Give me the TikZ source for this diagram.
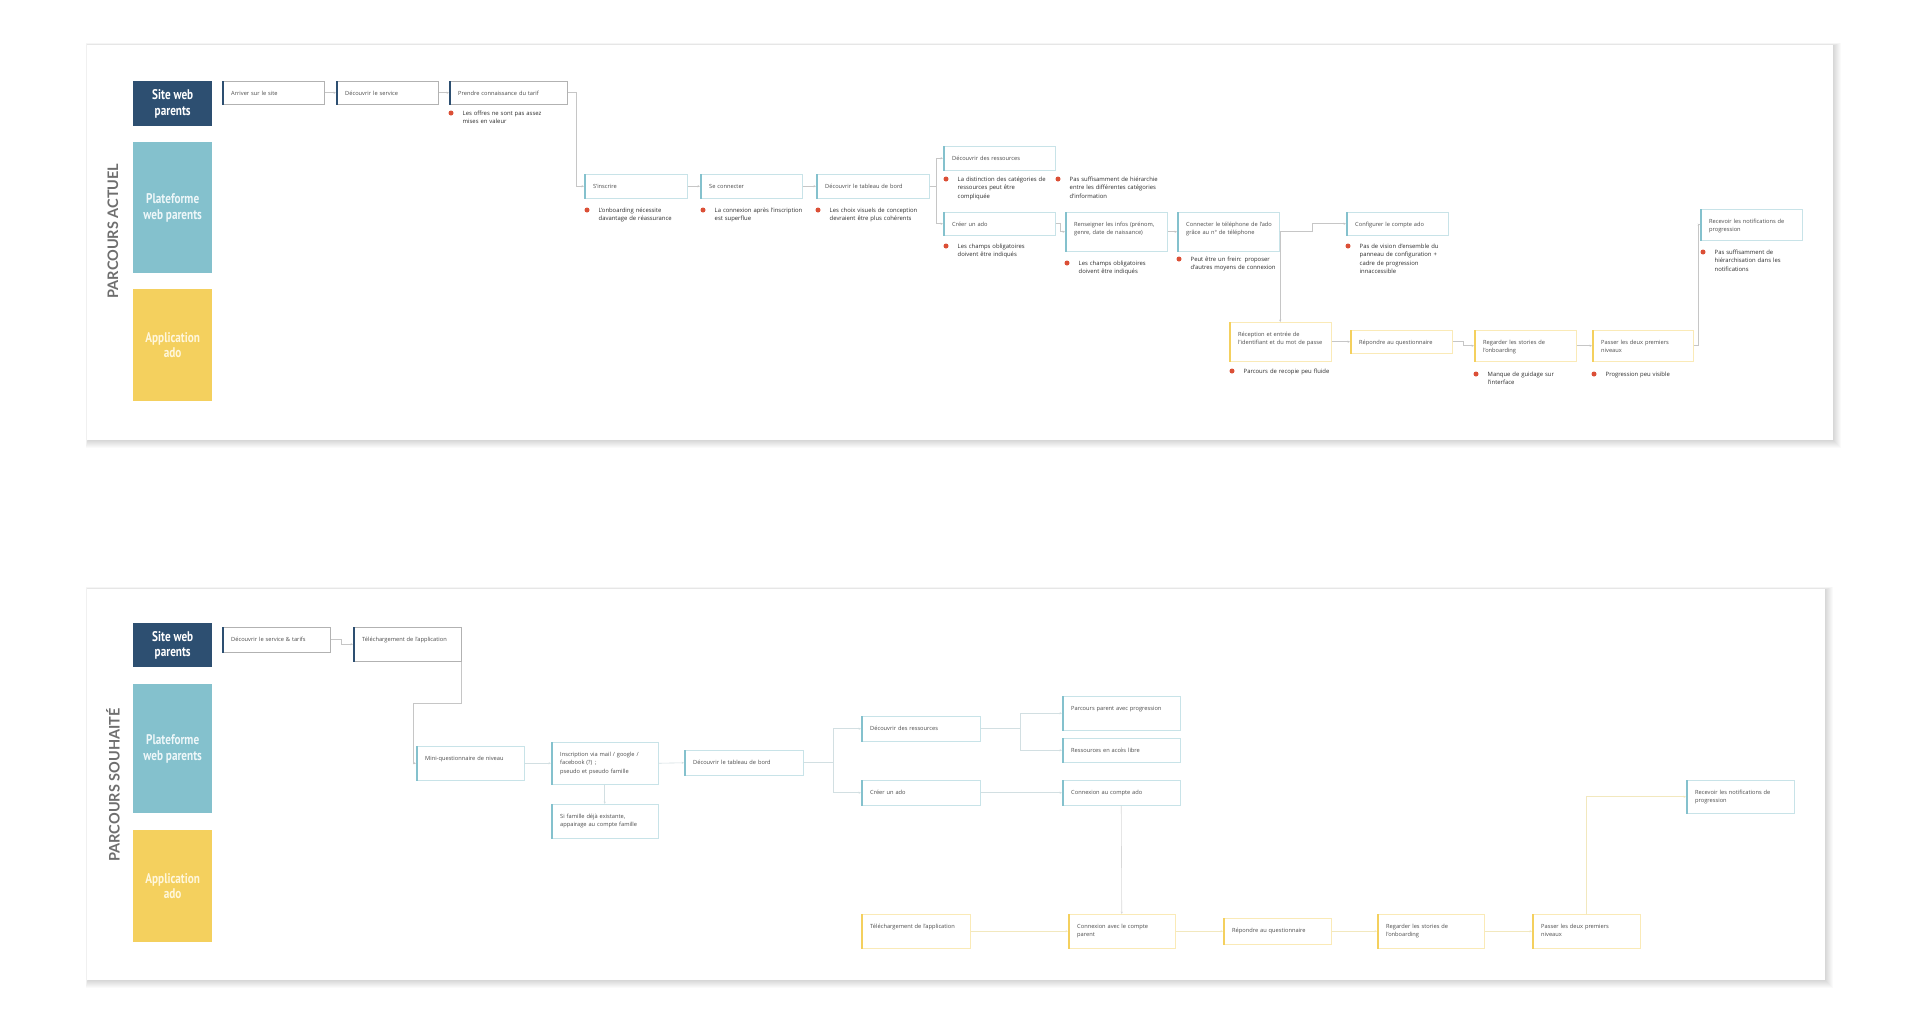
\documentclass[tikz,border=0pt]{standalone}
\usepackage{fontspec}
\setmainfont{Open Sans}
\newfontfamily\lanefont[FakeStretch=0.8]{PT Sans}
\newfontfamily\titlefont{Lato}
\usetikzlibrary{arrows.meta,calc}
\definecolor{navy}{HTML}{2D4F71}
\definecolor{laneteal}{HTML}{84C1CD}
\definecolor{laneyel}{HTML}{F4D05E}
\definecolor{dotred}{HTML}{DB4F36}
\definecolor{conngray}{HTML}{C6C6C6}
\definecolor{connteal}{HTML}{D2DFE2}
\definecolor{connyel}{HTML}{F2E8BE}
\definecolor{tealtxt}{HTML}{EEF7F9}
\definecolor{yeltxt}{HTML}{FFF7DC}
\tikzset{
  boxshape/.style={draw=#1, fill=white, line width=0.5pt, inner sep=0pt, anchor=north west, rectangle},
  btext/.style={font=\fontsize{5.7}{8.5}\selectfont, text=black!70, align=left, text width=150pt, inner sep=0pt, anchor=base west},
  btxt/.style={font=\fontsize{5.9}{8.6}\selectfont, text=black!82, align=left, text width=150pt, inner sep=0pt, anchor=base west},
  rdot/.style={circle, fill=dotred, inner sep=0pt, minimum size=5pt},
  lane/.style={anchor=north west, inner sep=0pt, align=center, font=\lanefont\bfseries\fontsize{14}{15.5}\selectfont, minimum width=79pt},
  ptitle/.style={font=\titlefont\bfseries\fontsize{14.5}{16}\selectfont, text=black!57, rotate=90, inner sep=0pt},
  conn/.style={draw=#1, line width=0.6pt, -{Stealth[length=2.4pt,width=2.2pt]}},
  cg/.style={conn=conngray},
  ct/.style={conn=connteal},
  cy/.style={conn=connyel},
}
% name x y w h accent border text
\newcommand\bx[8]{%
  \node[boxshape=#7, minimum width=#4pt, minimum height=#5pt] (#1) at (#2,#3) {};
  \draw[#6, line width=1.8pt] ([xshift=0.9pt]#1.north west) -- ([xshift=0.9pt]#1.south west);
  \node[btext] (#1t) at ($(#1.north west)+(9,14)$) {#8};
}
% name x y text
\newcommand\bul[4]{%
  \node[rdot] (#1d) at (#2,#3) {};
  \node[btxt] (#1) at (#2+11.5,#3+2) {#4};
}
\newcommand\card[4]{%
  \foreach \k in {1,...,8} \fill[black, opacity=0.02] (#1-0.3*\k+1,#2-0.3*\k+0.5) rectangle (#3+\k,#4+\k);
  \fill[white] (#1,#2) rectangle (#3,#4);
}
\begin{document}
\begin{tikzpicture}[x=1pt,y=-1pt]
\useasboundingbox (0,0) rectangle (1920,1029);
\fill[white] (0,0) rectangle (1920,1029);
\card{87}{45}{1833}{440}
\card{87}{589}{1825}{980}

% ---------- TOP : PARCOURS ACTUEL ----------
\node[ptitle] (t1) at (113,231) {PARCOURS ACTUEL};
\node[lane, fill=navy, text=white, minimum height=45pt] (l1) at (133,81) {Site web\\parents};
\node[lane, fill=laneteal, text=tealtxt, minimum height=131pt] (l2) at (133,142) {Plateforme\\web parents};
\node[lane, fill=laneyel, text=yeltxt, minimum height=112pt] (l3) at (133,289) {Application\\ado};

\bx{a1}{222}{81}{102}{23}{navy}{black!30}{Arriver sur le site}
\bx{a2}{336}{81}{102}{23}{navy}{black!30}{Découvrir le service}
\bx{a3}{449}{81}{118}{23}{navy}{black!30}{Prendre connaissance du tarif}
\bul{ba3}{451}{113}{Les offres ne sont pas assez\\mises en valeur}

\bx{p1}{584}{174}{103}{24}{laneteal}{laneteal!45}{S'inscrire}
\bul{bp1}{587}{210}{L'onboarding nécessite\\davantage de réassurance}
\bx{p2}{700}{174}{102}{24}{laneteal}{laneteal!45}{Se connecter}
\bul{bp2}{703}{210}{La connexion après l'inscription\\est superflue}
\bx{p3}{816}{174}{113}{24}{laneteal}{laneteal!45}{Découvrir le tableau de bord}
\bul{bp3}{818}{210}{Les choix visuels de conception\\devraient être plus cohérents}
\bx{p4}{943}{146}{112}{24}{laneteal}{laneteal!45}{Découvrir des ressources}
\bul{bp4a}{946}{179}{La distinction des catégories de\\ressources peut être\\compliquée}
\bul{bp4b}{1058}{179}{Pas suffisamment de hiérarchie\\entre les différentes catégories\\d'information}
\bx{p5}{943}{212}{112}{23}{laneteal}{laneteal!45}{Créer un ado}
\bul{bp5}{946}{246}{Les champs obligatoires\\doivent être indiqués}
\bx{p6}{1065}{212}{102}{39}{laneteal}{laneteal!45}{Renseigner les infos (prénom,\\genre, date de naissance)}
\bul{bp6}{1067}{263}{Les champs obligatoires\\doivent être indiqués}
\bx{p7}{1177}{212}{102}{39}{laneteal}{laneteal!45}{Connecter le téléphone de l'ado\\grâce au n° de téléphone}
\bul{bp7}{1179}{259}{Peut être un frein: proposer\\d'autres moyens de connexion}
\bx{p8}{1346}{212}{102}{23}{laneteal}{laneteal!45}{Configurer le compte ado}
\bul{bp8}{1348}{246}{Pas de vision d'ensemble du\\panneau de configuration +\\cadre de progression\\innaccessible}
\bx{p9}{1700}{209}{102}{31}{laneteal}{laneteal!45}{Recevoir les notifications de\\progression}
\bul{bp9}{1703}{252}{Pas suffisamment de\\hiérarchisation dans les\\notifications}

\bx{y1}{1229}{322}{102}{39}{laneyel}{laneyel!45}{Réception et entrée de\\l'identifiant et du mot de passe}
\bul{by1}{1232}{371}{Parcours de recopie peu fluide}
\bx{y2}{1350}{330}{102}{23}{laneyel}{laneyel!45}{Répondre au questionnaire}
\bx{y3}{1474}{330}{102}{31}{laneyel}{laneyel!45}{Regarder les stories de\\l'onboarding}
\bul{by3}{1476}{374}{Manque de guidage sur\\l'interface}
\bx{y4}{1592}{330}{101}{31}{laneyel}{laneyel!45}{Passer les deux premiers\\niveaux}
\bul{by4}{1594}{374}{Progression peu visible}

\draw[cg] (a1.east) -- (a2.west);
\draw[cg] (a2.east) -- (a3.west);
\draw[cg] (a3.east) -- ++(9,0) |- (p1.west);
\draw[cg] (p1.east) -- (p2.west);
\draw[cg] (p2.east) -- (p3.west);
\draw[cg] (p3.east) -- ++(7,0) |- (p4.west);
\draw[cg] (p3.east) -- ++(7,0) |- (p5.west);
\draw[cg] (p5.east) -- ++(5,0) |- (p6.west);
\draw[cg] (p6.east) -- (p7.west);
\draw[cg] (p7.east) -- ++(33,0) |- (p8.west);
\draw[cg] (p7.east) -| (y1.north);
\draw[cg] (y1.east) -- (y2.west);
\draw[cg] (y2.east) -- ++(11,0) |- (y3.west);
\draw[cg] (y3.east) -- (y4.west);
\draw[cg] (y4.east) -- ++(5,0) |- (p9.west);

% ---------- BOTTOM : PARCOURS SOUHAITE ----------
\node[ptitle] (t2) at (113,785) {PARCOURS SOUHAITÉ};
\node[lane, fill=navy, text=white, minimum height=44pt] (l4) at (133,623) {Site web\\parents};
\node[lane, fill=laneteal, text=tealtxt, minimum height=129pt] (l5) at (133,684) {Plateforme\\web parents};
\node[lane, fill=laneyel, text=yeltxt, minimum height=112pt] (l6) at (133,830) {Application\\ado};

\bx{b1}{222}{627}{108}{25}{navy}{black!30}{Découvrir le service \& tarifs}
\bx{b2}{353}{627}{108}{34}{navy}{black!30}{Téléchargement de l'application}
\bx{m1}{416}{746}{108}{34}{laneteal}{laneteal!45}{Mini-questionnaire de niveau}
\bx{m2}{551}{742}{107}{42}{laneteal}{laneteal!45}{Inscription via mail / google /\\facebook (?) ;\\pseudo et pseudo famille}
\bx{m3}{551}{804}{107}{34}{laneteal}{laneteal!45}{Si famille déjà existante,\\appairage au compte famille}
\bx{m4}{684}{750}{119}{25}{laneteal}{laneteal!45}{Découvrir le tableau de bord}
\bx{m5}{861}{716}{119}{25}{laneteal}{laneteal!45}{Découvrir des ressources}
\bx{m6}{861}{780}{119}{25}{laneteal}{laneteal!45}{Créer un ado}
\bx{m7}{1062}{696}{118}{34}{laneteal}{laneteal!45}{Parcours parent avec progression}
\bx{m8}{1062}{738}{118}{24}{laneteal}{laneteal!45}{Ressources en accès libre}
\bx{m9}{1062}{780}{118}{25}{laneteal}{laneteal!45}{Connexion au compte ado}
\bx{m10}{1686}{780}{108}{33}{laneteal}{laneteal!45}{Recevoir les notifications de\\progression}

\bx{o1}{861}{914}{109}{34}{laneyel}{laneyel!45}{Téléchargement de l'application}
\bx{o2}{1068}{914}{107}{34}{laneyel}{laneyel!45}{Connexion avec le compte\\parent}
\bx{o3}{1223}{918}{108}{26}{laneyel}{laneyel!45}{Répondre au questionnaire}
\bx{o4}{1377}{914}{107}{34}{laneyel}{laneyel!45}{Regarder les stories de\\l'onboarding}
\bx{o5}{1532}{914}{108}{34}{laneyel}{laneyel!45}{Passer les deux premiers\\niveaux}

\draw[cg] (b1.east) -- ++(11,0) |- (b2.west);
\draw[cg] (b2.south east) -- ++(0,42) -| ([xshift=-3pt]m1.west) -- (m1.west);
\draw[ct] (m1.east) -- (m2.west);
\draw[ct] (m2.south) -- (m3.north);
\draw[ct] (m2.east) -- (m4.west);
\draw[ct] (m4.east) -- ++(30,0) |- (m5.west);
\draw[ct] (m4.east) -- ++(30,0) |- (m6.west);
\draw[ct] (m5.east) -- ++(40,0) |- (m7.west);
\draw[ct] (m5.east) -- ++(40,0) |- (m8.west);
\draw[ct] (m6.east) -- (m9.west);
\draw[conn=black!15] (m9.south) -- (o2.north);
\draw[cy] (o1.east) -- (o2.west);
\draw[cy] (o2.east) -- (o3.west);
\draw[cy] (o3.east) -- (o4.west);
\draw[cy] (o4.east) -- (o5.west);
\draw[cy] (o5.north) |- (m10.west);
\end{tikzpicture}
\end{document}
